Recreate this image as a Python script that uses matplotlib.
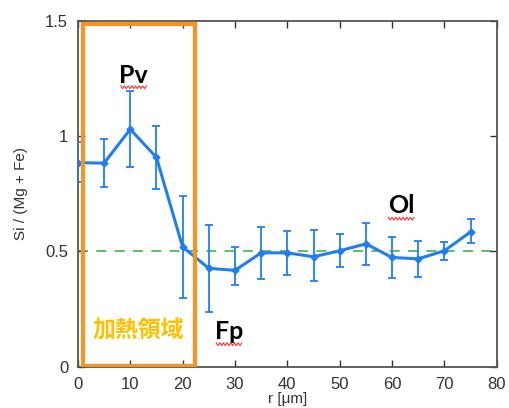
import matplotlib.pyplot as plt
import numpy as np
from matplotlib.patches import Rectangle

plt.rcParams['font.family'] = ['Liberation Sans', 'DejaVu Sans']

r = [0, 5, 10, 15, 20, 25, 30, 35, 40, 45, 50, 55, 60, 65, 70, 75]
ratio = [0.885, 0.883, 1.03, 0.908, 0.52, 0.427, 0.418, 0.494, 0.494, 0.477,
         0.503, 0.533, 0.474, 0.468, 0.503, 0.585]
err_up = [0.09, 0.103, 0.165, 0.135, 0.222, 0.189, 0.102, 0.113, 0.095, 0.114,
          0.072, 0.091, 0.088, 0.078, 0.039, 0.054]
err_lo = [0.085, 0.103, 0.164, 0.138, 0.22, 0.188, 0.064, 0.114, 0.094, 0.107,
          0.072, 0.092, 0.089, 0.078, 0.04, 0.05]

heated = (1.0, 22.4)   # heated zone in r
ref_level = 0.5

blue = '#1f7ff0'
orange = '#f7931e'

fig = plt.figure(figsize=(5.09, 4.08), dpi=100)
ax = fig.add_axes([0.153, 0.101, 0.823, 0.848])

ax.axhline(ref_level, color='#3cb44b', ls=(0, (6, 5)), lw=1.2, zorder=1)
ax.errorbar(r, ratio, yerr=[err_lo, err_up], color=blue, lw=2.2, marker='D',
            ms=3.5, elinewidth=1.3, capsize=3, capthick=1.3, zorder=3)

ax.add_patch(Rectangle((heated[0], 0.003), heated[1] - heated[0], 1.485,
                       fill=False, ec=orange, lw=3, zorder=4))

ax.set_xlim(0, 80)
ax.set_ylim(0, 1.5)
ax.set_xticks(np.arange(0, 81, 10))
ax.set_yticks([0, 0.5, 1, 1.5])
ax.set_yticklabels(['0', '0.5', '1', '1.5'])
ax.tick_params(direction='in', top=True, right=True, length=5, width=1,
               labelsize=12, colors='#333333', pad=7)
for s in ax.spines.values():
    s.set_color('#555555')
    s.set_linewidth(1.3)

ax.set_xlabel('r [μm]', fontsize=11, color='#333333', labelpad=0)
ax.set_ylabel('Si / (Mg + Fe)', fontsize=11, color='#333333', labelpad=12)

phase_kw = dict(fontsize=18, fontweight='bold', color='black', ha='center',
                va='center', family=['Lato', 'DejaVu Sans'])
ax.text(10.6, 1.265, 'Pv', **phase_kw)
ax.text(28.8, 0.155, 'Fp', **phase_kw)
ax.text(61.7, 0.70, 'Ol', **phase_kw)

# red squiggles under the phase labels
for x0, y0 in [(8.2, 1.212), (26.4, 0.098), (59.3, 0.642)]:
    xs = np.linspace(x0, x0 + 4.9, 15)
    ys = y0 + 0.006 * np.where(np.arange(15) % 2 == 0, 1, -1)
    ax.plot(xs, ys, color='#ff3030', lw=0.8, zorder=5)

ax.text(11.5, 0.155, '加熱領域', fontsize=16.5, fontweight='bold', color='#ffc000',
        ha='center', va='center', family=['Noto Sans CJK JP'])

fig.savefig('out.png', dpi=100)
